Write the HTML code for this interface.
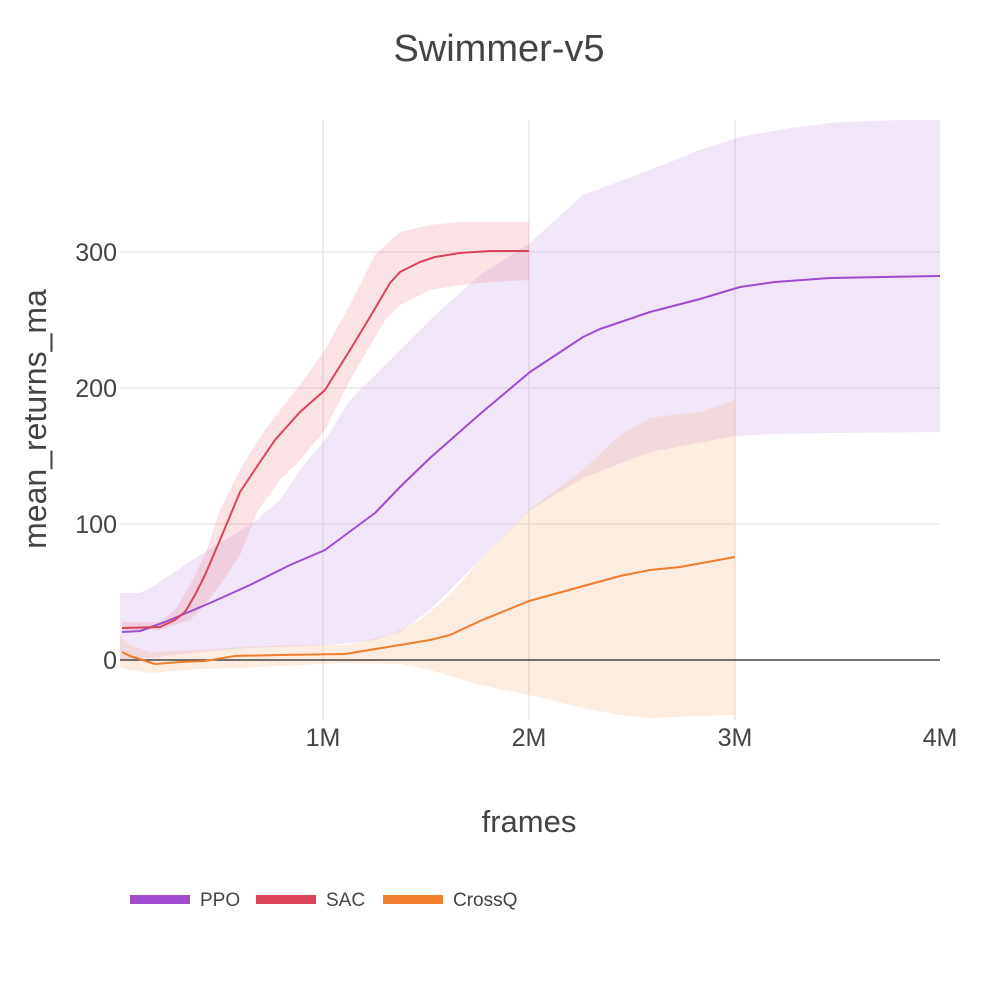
<!DOCTYPE html>
<html><head><meta charset="utf-8"><style>
body{margin:0;background:#fff;}
svg{display:block;font-family:"Liberation Sans",sans-serif;}
</style></head><body>
<svg width="1000" height="1000" viewBox="0 0 1000 1000">
<rect width="1000" height="1000" fill="#fff"/>
<g stroke="#e8e8e8" stroke-width="1.5">
<line x1="323" y1="120" x2="323" y2="720"/>
<line x1="529" y1="120" x2="529" y2="720"/>
<line x1="735" y1="120" x2="735" y2="720"/>
<line x1="120" y1="252" x2="940" y2="252"/>
<line x1="120" y1="388" x2="940" y2="388"/>
<line x1="120" y1="524" x2="940" y2="524"/>
</g>
<path fill="rgba(165,105,215,0.17)" d="M120,593 L140,593 L155,585 L200,555 L250,525 L280,500 L300,470 L325,440 L350,400 L380,370 L430,320 L480,275 L530,243 L583,195 L650,170 L700,150 L740,137 L790,128 L840,122 L900,120 L940,120 L940,432 L830,433 L775,434 L735,436 L650,452 L583,478 L530,510 L480,560 L430,610 L400,632 L375,640 L330,645 L250,648 L200,652 L150,658 L120,660 Z"/>
<path fill="rgba(230,110,125,0.2)" d="M122,622 L160,622 L175,610 L190,585 L205,555 L220,510 L240,470 L258,440 L280,410 L300,385 L325,350 L350,305 L375,255 L400,232 L430,225 L460,222 L529,222 L529,280 L490,282 L460,285 L430,290 L400,305 L385,320 L350,380 L325,430 L300,460 L280,480 L258,510 L240,555 L220,585 L205,605 L190,620 L175,625 L160,630 L122,630 Z"/>
<path fill="rgba(245,160,100,0.2)" d="M120,635 L130,645 L150,652 L200,650 L240,647 L300,645 L345,645 L390,635 L420,620 L450,595 L480,560 L529,510 L583,470 L620,435 L650,418 L680,414 L700,412 L735,400 L735,715 L700,716 L650,718 L620,715 L583,708 L529,695 L480,685 L430,670 L400,664 L345,663 L300,665 L240,668 L200,669 L150,673 L130,670 L120,668 Z"/>
<line x1="120" y1="660" x2="940" y2="660" stroke="#444" stroke-width="1.5"/>
<g fill="none" stroke-width="2" stroke-linejoin="round">
<polyline stroke="#9f4bcd" points="122,632 140,631 165,622 210,603 250,585 290,565 325,550 375,513 400,487 430,458 480,414 530,372 583,337 600,329 650,312 700,299 740,287 775,282 830,278 940,276"/>
<polyline stroke="#d9445a" points="122,628 160,627 175,620 185,612 195,595 205,575 220,540 240,492 258,465 275,440 300,412 325,390 350,350 370,317 390,283 400,272 420,262 435,257 460,253 490,251 529,251"/>
<polyline stroke="#f07d2c" points="122,652 130,656 155,664 180,662 205,661 235,656 280,655 345,654 400,645 430,640 450,635 480,621 529,601 580,587 620,576 650,570 680,567 735,557"/>
</g>
<g fill="#444" font-size="25">
<text x="117" y="261" text-anchor="end">300</text>
<text x="117" y="397" text-anchor="end">200</text>
<text x="117" y="533" text-anchor="end">100</text>
<text x="117" y="669" text-anchor="end">0</text>
<text x="323" y="746" text-anchor="middle">1M</text>
<text x="529" y="746" text-anchor="middle">2M</text>
<text x="735" y="746" text-anchor="middle">3M</text>
<text x="940" y="746" text-anchor="middle">4M</text>
</g>
<text x="499" y="61" text-anchor="middle" font-size="38" fill="#444">Swimmer-v5</text>
<text x="529" y="832" text-anchor="middle" font-size="31" fill="#444">frames</text>
<text transform="translate(46,419) rotate(-90)" text-anchor="middle" font-size="32" fill="#444">mean_returns_ma</text>
<rect x="130" y="895" width="60" height="9" fill="#a04bcd"/>
<rect x="256" y="895" width="60" height="9" fill="#d9445a"/>
<rect x="383" y="895" width="60" height="9" fill="#f07d2c"/>
<g font-size="19" fill="#444">
<text x="200" y="906">PPO</text>
<text x="326" y="906">SAC</text>
<text x="453" y="906">CrossQ</text>
</g>
</svg>
</body></html>
